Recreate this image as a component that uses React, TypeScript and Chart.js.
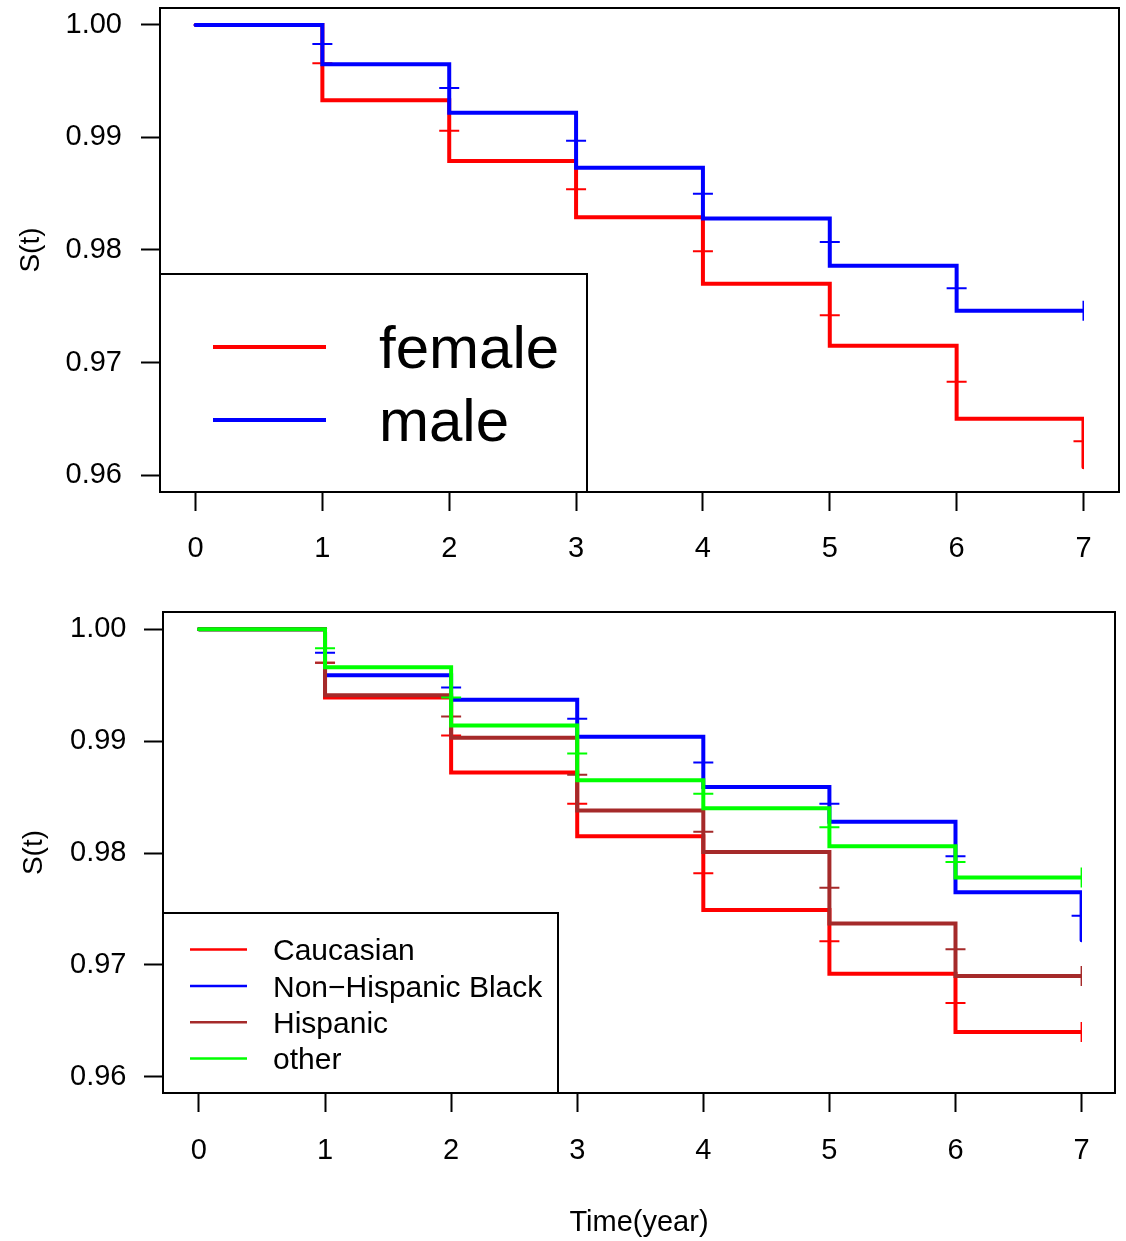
import { useEffect, useRef } from "react";
import { Chart, registerables } from "chart.js";

Chart.register(...registerables);

const FONT = '"Liberation Sans", Arial, Helvetica, sans-serif';

// Follow-up years at which the survival curves step, and the censoring times
const years = [0, 1, 2, 3, 4, 5, 6, 7];
const censorYears = [1, 2, 3, 4, 5, 6, 7];
const xTickValues = [0, 1, 2, 3, 4, 5, 6, 7];
const yTickValues = [0.96, 0.97, 0.98, 0.99, 1.0];

// Panel 1: survival by sex
const sexLabels = ["female", "male"];
const sexColors = ["#FF0000", "#0000FF"];
const femaleSurvival = [1, 0.9933, 0.9879, 0.9829, 0.977, 0.9715, 0.965, 0.9607];
const maleSurvival = [1, 0.9965, 0.9922, 0.9873, 0.9828, 0.9786, 0.9746, 0.9746];
const femaleCensored = [0.9966, 0.9906, 0.9854, 0.9799, 0.9742, 0.9683, 0.963];
const maleCensored = [0.9983, 0.9944, 0.9897, 0.985, 0.9807, 0.9766, 0.9746];

// Panel 2: survival by race / ethnicity
const raceLabels = ["Caucasian", "Non\u2212Hispanic Black", "Hispanic", "other"];
const raceColors = ["#FF0000", "#0000FF", "#A52A2A", "#00FF00"];
const caucasianSurvival = [1, 0.9939, 0.9872, 0.9815, 0.9749, 0.9692, 0.964, 0.964];
const caucasianCensored = [0.997, 0.9905, 0.9844, 0.9782, 0.9721, 0.9666, 0.964];
const blackSurvival = [1, 0.9959, 0.9937, 0.9904, 0.9859, 0.9828, 0.9765, 0.9722];
const blackCensored = [0.9979, 0.9948, 0.992, 0.9881, 0.9844, 0.9797, 0.9744];
const hispanicSurvival = [1, 0.9941, 0.9903, 0.9838, 0.9801, 0.9737, 0.969, 0.969];
const hispanicCensored = [0.997, 0.9922, 0.987, 0.9819, 0.9769, 0.9714, 0.969];
const otherSurvival = [1, 0.9966, 0.9914, 0.9865, 0.984, 0.9806, 0.9778, 0.9778];
const otherCensored = [0.9983, 0.9939, 0.9889, 0.9853, 0.9823, 0.9792, 0.9778];

type Curve = { label: string; color: string; survival: number[]; censored: number[] };

function buildDatasets(curves: Curve[], lineWidth: number, clipRight: number) {
  const clip = { left: 10, top: 10, right: clipRight, bottom: 10 };
  const out: any[] = [];
  curves.forEach((c, i) => {
    const order = 100 - i * 2; // later groups are painted over earlier ones
    out.push({
      label: c.label,
      data: years.map((t, k) => ({ x: t, y: c.survival[k] })),
      borderColor: c.color,
      backgroundColor: c.color,
      borderWidth: lineWidth,
      stepped: "before",
      pointRadius: 0,
      fill: false,
      borderCapStyle: "round",
      borderJoinStyle: "miter",
      clip,
      order,
    });
    out.push({
      label: "",
      data: censorYears.map((t, k) => ({ x: t, y: c.censored[k] })),
      showLine: false,
      pointStyle: "cross",
      pointRadius: 10,
      pointBorderWidth: 2,
      pointBorderColor: c.color,
      borderColor: c.color,
      clip,
      order: order - 1,
    });
  });
  return out;
}

// Full box around the plotting region
const framePlugin = {
  id: "plotFrame",
  afterDatasetsDraw(chart: any) {
    const { ctx, chartArea: a } = chart;
    ctx.save();
    ctx.strokeStyle = "#000";
    ctx.lineWidth = 2;
    ctx.strokeRect(a.left, a.top, a.right - a.left, a.bottom - a.top);
    ctx.restore();
  },
};

// Boxed legend anchored to the lower-left corner of the plotting region
const boxLegendPlugin = {
  id: "boxLegend",
  afterDraw(chart: any, _args: any, opts: any) {
    const { ctx, chartArea: a } = chart;
    const left = a.left;
    const top = a.bottom - opts.height;
    ctx.save();
    ctx.fillStyle = "#fff";
    ctx.fillRect(left, top, opts.width, opts.height);
    ctx.strokeStyle = "#000";
    ctx.lineWidth = 2;
    ctx.strokeRect(left, top, opts.width, opts.height);
    ctx.font = `${opts.fontSize}px ${FONT}`;
    ctx.textAlign = "left";
    ctx.textBaseline = "alphabetic";
    opts.labels.forEach((label: string, i: number) => {
      const y = top + opts.firstRow + i * opts.rowGap;
      ctx.strokeStyle = opts.colors[i];
      ctx.lineWidth = opts.lineWidth;
      ctx.lineCap = "butt";
      ctx.beginPath();
      ctx.moveTo(left + opts.lineStart, y);
      ctx.lineTo(left + opts.lineEnd, y);
      ctx.stroke();
      ctx.fillStyle = "#000";
      ctx.fillText(label, left + opts.textStart, y + opts.baselineShift);
    });
    ctx.restore();
  },
};

function makeScales(p: {
  xMin: number; xMax: number; yMin: number; yMax: number;
  xHeight: number; yWidth: number; yPad: number; xPad: number;
  yTitlePad: number; xTitle?: string;
}) {
  const grid = {
    display: true,
    drawOnChartArea: false,
    drawTicks: true,
    tickLength: 19,
    tickWidth: 2,
    tickColor: "#000",
    color: "#000",
  };
  const zeroPadding = (s: any) => {
    s.paddingTop = 0;
    s.paddingBottom = 0;
    s.paddingLeft = 0;
    s.paddingRight = 0;
  };
  return {
    x: {
      type: "linear",
      min: p.xMin,
      max: p.xMax,
      grid,
      border: { display: false },
      afterBuildTicks: (s: any) => {
        s.ticks = xTickValues.map((v) => ({ value: v }));
      },
      afterFit: (s: any) => {
        s.height = p.xHeight;
        zeroPadding(s);
      },
      ticks: {
        color: "#000",
        font: { family: FONT, size: 29 },
        padding: p.xPad,
        maxRotation: 0,
        autoSkip: false,
        callback: (v: any) => String(v),
      },
      title: p.xTitle
        ? {
            display: true,
            text: p.xTitle,
            color: "#000",
            font: { family: FONT, size: 29 },
            padding: { top: 0, bottom: 1 },
          }
        : { display: false },
    },
    y: {
      type: "linear",
      min: p.yMin,
      max: p.yMax,
      grid,
      border: { display: false },
      afterBuildTicks: (s: any) => {
        s.ticks = yTickValues.map((v) => ({ value: v }));
      },
      afterFit: (s: any) => {
        s.width = p.yWidth;
        zeroPadding(s);
      },
      ticks: {
        color: "#000",
        font: { family: FONT, size: 29 },
        padding: p.yPad,
        autoSkip: false,
        callback: (v: any) => Number(v).toFixed(2),
      },
      title: {
        display: true,
        text: "S(t)",
        color: "#000",
        font: { family: FONT, size: 28 },
        padding: { top: p.yTitlePad, bottom: 0 },
      },
    },
  };
}

export default function App() {
  const topRef = useRef<HTMLCanvasElement | null>(null);
  const bottomRef = useRef<HTMLCanvasElement | null>(null);

  useEffect(() => {
    const sexCurves: Curve[] = [
      { label: sexLabels[0], color: sexColors[0], survival: femaleSurvival, censored: femaleCensored },
      { label: sexLabels[1], color: sexColors[1], survival: maleSurvival, censored: maleCensored },
    ];
    const raceCurves: Curve[] = [
      { label: raceLabels[0], color: raceColors[0], survival: caucasianSurvival, censored: caucasianCensored },
      { label: raceLabels[1], color: raceColors[1], survival: blackSurvival, censored: blackCensored },
      { label: raceLabels[2], color: raceColors[2], survival: hispanicSurvival, censored: hispanicCensored },
      { label: raceLabels[3], color: raceColors[3], survival: otherSurvival, censored: otherCensored },
    ];

    const common = {
      animation: false,
      responsive: false,
      devicePixelRatio: 1,
      events: [],
    };

    const top = new Chart(topRef.current as HTMLCanvasElement, {
      type: "line",
      data: { datasets: buildDatasets(sexCurves, 4, -35) },
      options: {
        ...common,
        layout: { autoPadding: false, padding: { left: 0, top: 8, right: 7, bottom: 0 } },
        plugins: {
          legend: { display: false },
          tooltip: { enabled: false },
          boxLegend: {
            labels: sexLabels,
            colors: sexColors,
            width: 427,
            height: 218,
            firstRow: 73,
            rowGap: 73,
            lineStart: 53,
            lineEnd: 166,
            lineWidth: 4,
            textStart: 219,
            baselineShift: 21,
            fontSize: 60,
          },
        },
        scales: makeScales({
          xMin: -0.28, xMax: 7.28, yMin: 0.95849, yMax: 1.00151,
          xHeight: 78, yWidth: 160, yPad: 19, xPad: 21, yTitlePad: 14.5,
        }),
      } as any,
      plugins: [framePlugin, boxLegendPlugin],
    });

    const bottom = new Chart(bottomRef.current as HTMLCanvasElement, {
      type: "line",
      data: { datasets: buildDatasets(raceCurves, 4, -32.9) },
      options: {
        ...common,
        layout: { autoPadding: false, padding: { left: 0, top: 22, right: 11, bottom: 0 } },
        plugins: {
          legend: { display: false },
          tooltip: { enabled: false },
          boxLegend: {
            labels: raceLabels,
            colors: raceColors,
            width: 395,
            height: 180,
            firstRow: 36.6,
            rowGap: 36.3,
            lineStart: 27,
            lineEnd: 84,
            lineWidth: 2.5,
            textStart: 110,
            baselineShift: 10.7,
            fontSize: 30,
          },
        },
        scales: makeScales({
          xMin: -0.285, xMax: 7.265, yMin: 0.958543, yMax: 1.001547,
          xHeight: 148, yWidth: 163, yPad: 17.5, xPad: 22, yTitlePad: 17,
          xTitle: "Time(year)",
        }),
      } as any,
      plugins: [framePlugin, boxLegendPlugin],
    });

    return () => {
      top.destroy();
      bottom.destroy();
    };
  }, []);

  return (
    <div
      style={{
        position: "absolute",
        left: 0,
        top: 0,
        width: 1126,
        height: 1241,
        background: "#fff",
        overflow: "hidden",
      }}
    >
      <canvas
        ref={topRef}
        width={1126}
        height={570}
        style={{ position: "absolute", left: 0, top: 0, width: 1126, height: 570, display: "block" }}
      />
      <canvas
        ref={bottomRef}
        width={1126}
        height={651}
        style={{ position: "absolute", left: 0, top: 590, width: 1126, height: 651, display: "block" }}
      />
    </div>
  );
}
